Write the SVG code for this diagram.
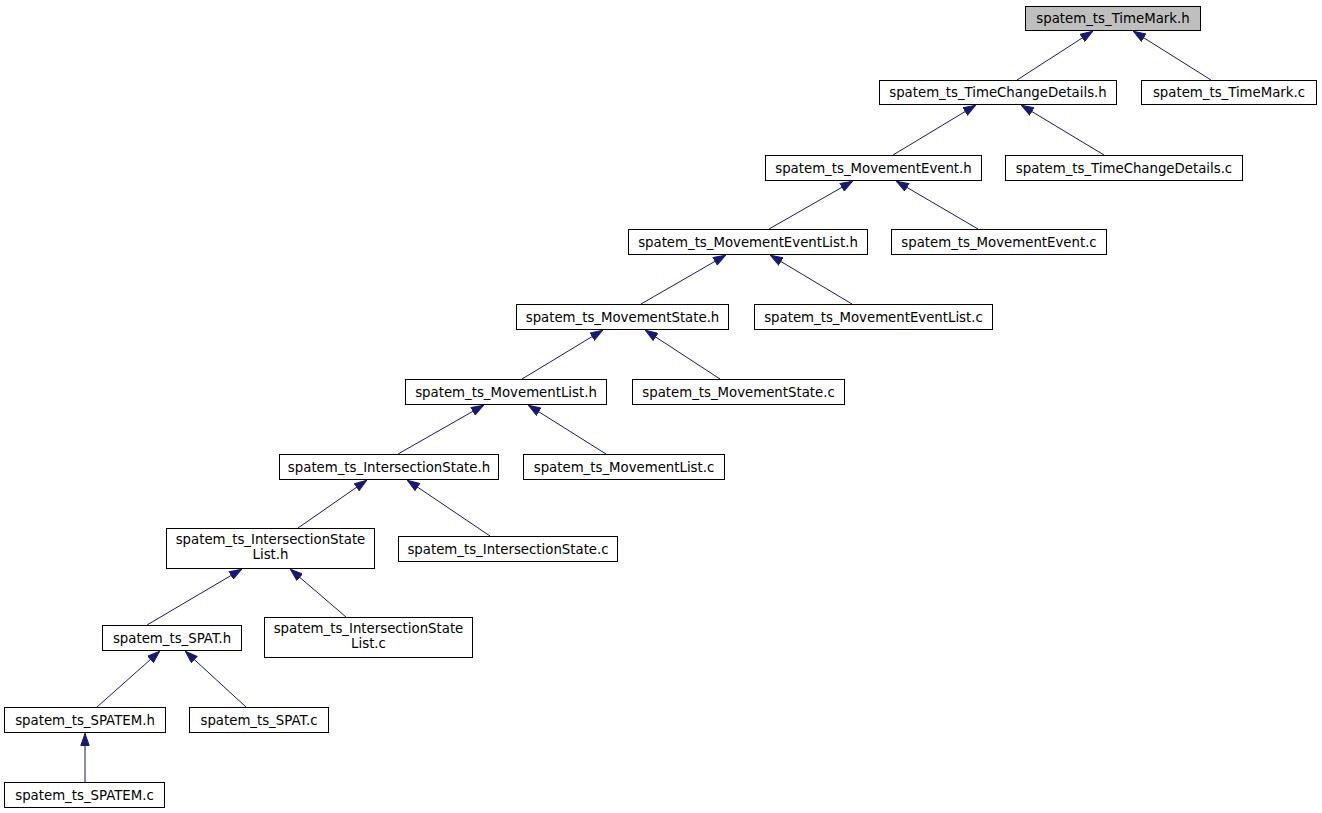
<svg xmlns="http://www.w3.org/2000/svg" width="1322" height="813" viewBox="0 0 1322 813">
<style>
.n rect{fill:#ffffff;stroke:#000000;stroke-width:1}
.n text{font-family:"DejaVu Sans",sans-serif;font-size:13.3px;fill:#000000;text-anchor:middle}
.e path{fill:none;stroke:#191970;stroke-width:1}
</style>
<defs>
<marker id="ah" viewBox="0 0 13 9.4" refX="13" refY="4.7" markerWidth="13" markerHeight="9.4" markerUnits="userSpaceOnUse" orient="auto">
<path d="M0.5,0.5 L12.5,4.7 L0.5,8.9 z" fill="#191970" stroke="#191970" stroke-width="1"/>
</marker>
</defs>
<rect x="0" y="0" width="1322" height="813" fill="#ffffff"/>
<g class="e" id="connectors">
<path d="M1017,80 L1093,31" marker-end="url(#ah)"/>
<path d="M1211,80 L1133,31" marker-end="url(#ah)"/>
<path d="M893,155 L976,105" marker-end="url(#ah)"/>
<path d="M1104,155 L1021,105" marker-end="url(#ah)"/>
<path d="M769,229 L853,181" marker-end="url(#ah)"/>
<path d="M978,229 L896,181" marker-end="url(#ah)"/>
<path d="M641,304 L726,255" marker-end="url(#ah)"/>
<path d="M852,304 L770,255" marker-end="url(#ah)"/>
<path d="M522,379 L603,330" marker-end="url(#ah)"/>
<path d="M720,379 L645,330" marker-end="url(#ah)"/>
<path d="M398,454 L484,405" marker-end="url(#ah)"/>
<path d="M606,454 L528,405" marker-end="url(#ah)"/>
<path d="M298,528 L367,480" marker-end="url(#ah)"/>
<path d="M490,536 L407,480" marker-end="url(#ah)"/>
<path d="M147,625 L242,569" marker-end="url(#ah)"/>
<path d="M346,617 L290,569" marker-end="url(#ah)"/>
<path d="M97,707 L160,651" marker-end="url(#ah)"/>
<path d="M246,707 L185,651" marker-end="url(#ah)"/>
<path d="M85,782 L85,733" marker-end="url(#ah)"/>
</g>
<g class="n" id="n_timemark_h"><rect x="1025.5" y="6.5" width="175" height="24" style="fill:#bfbfbf"/><text x="1113" y="23">spatem_ts_TimeMark.h</text></g>
<g class="n" id="n_timechangedetails_h"><rect x="879.5" y="80.5" width="237" height="24"/><text x="998" y="97">spatem_ts_TimeChangeDetails.h</text></g>
<g class="n" id="n_timemark_c"><rect x="1141.5" y="80.5" width="175" height="24"/><text x="1229" y="97">spatem_ts_TimeMark.c</text></g>
<g class="n" id="n_movementevent_h"><rect x="765.5" y="155.5" width="216" height="25"/><text x="873.5" y="172.5">spatem_ts_MovementEvent.h</text></g>
<g class="n" id="n_timechangedetails_c"><rect x="1005.5" y="155.5" width="237" height="25"/><text x="1124" y="172.5">spatem_ts_TimeChangeDetails.c</text></g>
<g class="n" id="n_movementeventlist_h"><rect x="628.5" y="229.5" width="239" height="25"/><text x="748" y="246.5">spatem_ts_MovementEventList.h</text></g>
<g class="n" id="n_movementevent_c"><rect x="891.5" y="229.5" width="215" height="25"/><text x="999" y="246.5">spatem_ts_MovementEvent.c</text></g>
<g class="n" id="n_movementstate_h"><rect x="516.5" y="304.5" width="212" height="25"/><text x="622.5" y="321.5">spatem_ts_MovementState.h</text></g>
<g class="n" id="n_movementeventlist_c"><rect x="754.5" y="304.5" width="238" height="25"/><text x="873.5" y="321.5">spatem_ts_MovementEventList.c</text></g>
<g class="n" id="n_movementlist_h"><rect x="405.5" y="379.5" width="201" height="25"/><text x="506" y="396.5">spatem_ts_MovementList.h</text></g>
<g class="n" id="n_movementstate_c"><rect x="632.5" y="379.5" width="212" height="25"/><text x="738.5" y="396.5">spatem_ts_MovementState.c</text></g>
<g class="n" id="n_intersectionstate_h"><rect x="279.5" y="454.5" width="219" height="25"/><text x="389" y="471.5">spatem_ts_IntersectionState.h</text></g>
<g class="n" id="n_movementlist_c"><rect x="523.5" y="454.5" width="201" height="25"/><text x="624" y="471.5">spatem_ts_MovementList.c</text></g>
<g class="n" id="n_intersectionstatelist_h"><rect x="166.5" y="528.5" width="208" height="40"/><text x="270.5" y="543.5">spatem_ts_IntersectionState</text><text x="270.5" y="558.5">List.h</text></g>
<g class="n" id="n_intersectionstate_c"><rect x="398.5" y="536.5" width="219" height="25"/><text x="508" y="553.5">spatem_ts_IntersectionState.c</text></g>
<g class="n" id="n_spat_h"><rect x="102.5" y="625.5" width="139" height="25"/><text x="172" y="642.5">spatem_ts_SPAT.h</text></g>
<g class="n" id="n_intersectionstatelist_c"><rect x="264.5" y="617.5" width="208" height="40"/><text x="368.5" y="632.5">spatem_ts_IntersectionState</text><text x="368.5" y="647.5">List.c</text></g>
<g class="n" id="n_spatem_h"><rect x="4.5" y="707.5" width="161" height="25"/><text x="85" y="724.5">spatem_ts_SPATEM.h</text></g>
<g class="n" id="n_spat_c"><rect x="189.5" y="707.5" width="139" height="25"/><text x="259" y="724.5">spatem_ts_SPAT.c</text></g>
<g class="n" id="n_spatem_c"><rect x="4.5" y="782.5" width="160" height="25"/><text x="84.5" y="799.5">spatem_ts_SPATEM.c</text></g>
</svg>
